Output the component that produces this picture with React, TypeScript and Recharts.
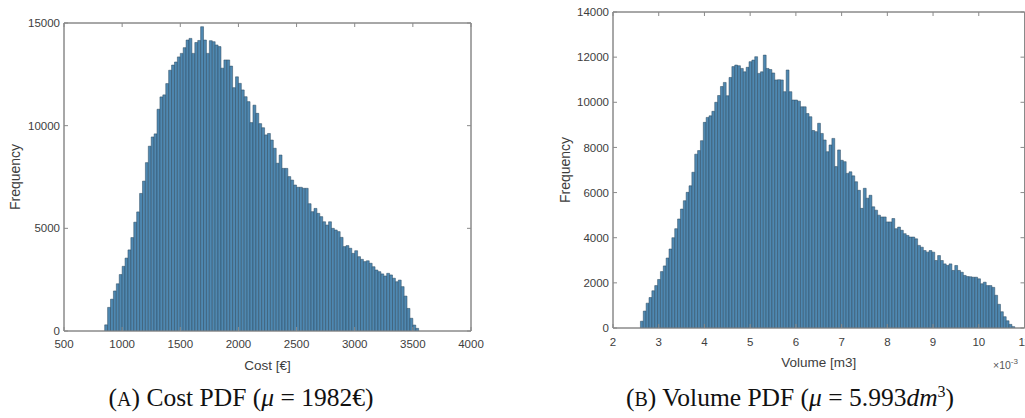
import React from 'react';
import { BarChart, Bar, XAxis, YAxis, Label, ReferenceArea } from 'recharts';

// Cost histogram, 25 € bins from 850 €
const costBinStart = 850;
const costBinWidth = 25;
const costCounts = [
  300, 1150, 1550, 1950, 2300, 2750, 3150, 3550, 3950, 4550,
  5300, 5800, 6700, 7300, 8200, 9000, 9450, 9600, 10800, 11400,
  11500, 12050, 12700, 12950, 13100, 13350, 13520, 13800, 14170, 14250,
  13520, 14050, 14150, 14820, 14170, 13520, 14140, 14090, 13930, 13850,
  12800, 13200, 13200, 12900, 11850, 12380, 12060, 11740, 11410, 11170,
  10150, 11000, 10600, 10100, 9900, 9550, 9620, 9300, 8900, 8170,
  8570, 7920, 7920, 7520, 7350, 7110, 7000, 7000, 6950, 6950,
  6200, 5810, 5970, 5730, 5570, 5320, 5160, 5320, 5000, 4920,
  4840, 4560, 4110, 4160, 4030, 3780, 3910, 3620, 3490, 3380,
  3420, 3300, 3130, 2970, 2890, 2780, 2680, 2810, 2730, 2570,
  2400, 2480, 2160, 1700, 1100, 620, 290, 130,
];
const costTicks = [500, 1000, 1500, 2000, 2500, 3000, 3500, 4000];
const costFreqTicks = [0, 5000, 10000, 15000];

// Volume histogram, bins in units of 1e-3 m3
const volumeBinStart = 2.6;
const volumeBinWidth = 0.0625;
const volumeCounts = [
  300, 750, 1100, 1350, 1650, 1880, 2150, 2500, 2750, 3100,
  3500, 4000, 4400, 4830, 5270, 5640, 6010, 6300, 6900, 7700,
  7860, 8300, 9110, 9330, 9400, 9600, 10000, 10300, 10700, 10880,
  10290, 11100, 11580, 11650, 11620, 11500, 11350, 11550, 11800, 11870,
  12020, 11280, 11350, 12090, 11500, 11450, 11300, 10990, 11000, 10990,
  10470, 11430, 10470, 10100, 10100, 10050, 9800, 9800, 9500, 9360,
  8750, 8700, 9070, 8620, 8330, 7810, 8110, 8400, 7150, 7890,
  7430, 7370, 6850, 6920, 6740, 6480, 6100, 5300, 6190, 5750,
  5880, 5370, 5220, 5000, 4920, 4920, 4700, 4700, 4850, 4400,
  4470, 4330, 4180, 4100, 4030, 4030, 3950, 3660, 3580, 3430,
  3360, 3430, 3360, 2990, 3210, 2990, 2840, 2770, 2840, 2550,
  2770, 2550, 2470, 2330, 2280, 2270, 2250, 2250, 2180, 1960,
  2030, 1880, 1880, 1800, 1450, 1050, 720, 500, 320, 160,
  60,
];
const volumeTicks = [2, 3, 4, 5, 6, 7, 8, 9, 10, 11];
const volumeFreqTicks = [0, 2000, 4000, 6000, 8000, 10000, 12000, 14000];

const AXIS = '#8a8a8a';
const TEXT = '#3d3d3d';
const FILL = '#4f88b1';
const EDGE = '#28465d';

const toRows = (start: number, width: number, counts: number[]) =>
  counts.map((count, i) => ({ x: start + (i + 0.5) * width, count }));

interface HistProps {
  rows: { x: number; count: number }[];
  binWidth: number;
  xDomain: [number, number];
  xTicks: number[];
  yDomain: [number, number];
  yTicks: number[];
  xLabel: string;
  width: number;
  height: number;
  margin: { top: number; right: number; bottom: number; left: number };
  yAxisWidth: number;
  yLabelOffset: number;
  tickGap: number;
}

function Histogram(p: HistProps) {
  const plotWidth = p.width - p.margin.left - p.margin.right - p.yAxisWidth;
  const barSize = (p.binWidth * plotWidth) / (p.xDomain[1] - p.xDomain[0]) * 0.995;
  const blank = () => '';
  return (
    <BarChart
      width={p.width}
      height={p.height}
      data={p.rows}
      margin={p.margin}
      barCategoryGap={0}
      barGap={0}
      style={{ fontFamily: '"Liberation Sans", Arial, sans-serif' }}
    >
      <XAxis
        xAxisId="b"
        type="number"
        dataKey="x"
        domain={p.xDomain}
        ticks={p.xTicks}
        interval={0}
        allowDataOverflow
        height={40}
        tickSize={-4}
        tickMargin={p.tickGap}
        stroke={AXIS}
        tick={{ fontSize: 11.5, fill: TEXT }}
      >
        <Label value={p.xLabel} position="insideBottom" offset={1} style={{ fontSize: 13.5, fill: TEXT }} />
      </XAxis>
      {/* box top edge, inward ticks, no labels */}
      <XAxis
        xAxisId="t"
        orientation="top"
        mirror
        type="number"
        dataKey="x"
        domain={p.xDomain}
        ticks={p.xTicks}
        interval={0}
        allowDataOverflow
        tickSize={4}
        tickFormatter={blank}
        stroke={AXIS}
      />
      <YAxis
        yAxisId="l"
        type="number"
        domain={p.yDomain}
        ticks={p.yTicks}
        interval={0}
        allowDataOverflow
        width={p.yAxisWidth}
        tickSize={-4}
        tickMargin={8}
        stroke={AXIS}
        tick={{ fontSize: 11.5, fill: TEXT }}
      >
        <Label
          value="Frequency"
          angle={-90}
          position="insideLeft"
          offset={p.yLabelOffset}
          style={{ textAnchor: 'middle', fontSize: 14, fill: TEXT }}
        />
      </YAxis>
      {/* box right edge */}
      <YAxis
        yAxisId="r"
        orientation="right"
        mirror
        type="number"
        domain={p.yDomain}
        ticks={p.yTicks}
        interval={0}
        allowDataOverflow
        tickSize={4}
        tickFormatter={blank}
        stroke={AXIS}
      />
      <ReferenceArea
        xAxisId="b"
        yAxisId="l"
        x1={p.xDomain[0]}
        x2={p.xDomain[1]}
        y1={p.yDomain[0]}
        y2={p.yDomain[1]}
        fill="none"
        stroke={AXIS}
        strokeWidth={1}
        ifOverflow="visible"
      />
      <Bar
        xAxisId="b"
        yAxisId="l"
        dataKey="count"
        fill={FILL}
        stroke={EDGE}
        strokeWidth={0.5}
        barSize={barSize}
        isAnimationActive={false}
      />
    </BarChart>
  );
}

const captionStyle: React.CSSProperties = {
  position: 'absolute',
  top: 385,
  fontFamily: '"Liberation Serif", "Times New Roman", serif',
  fontSize: 25.5,
  lineHeight: '26px',
  color: '#111',
  whiteSpace: 'nowrap',
  transform: 'translateX(-50%)',
};

export default function App() {
  return (
    <div
      style={{
        position: 'absolute',
        left: 0,
        top: 0,
        width: 1025,
        height: 418,
        overflow: 'hidden',
        background: '#fff',
      }}
    >
      <div style={{ position: 'absolute', left: 0, top: 0 }}>
        <Histogram
          rows={toRows(costBinStart, costBinWidth, costCounts)}
          binWidth={costBinWidth}
          xDomain={[500, 4000]}
          xTicks={costTicks}
          yDomain={[0, 15000]}
          yTicks={costFreqTicks}
          xLabel="Cost [€]"
          width={500}
          height={380}
          margin={{ top: 23, right: 29, bottom: 9, left: 8 }}
          yAxisWidth={56}
          yLabelOffset={7}
          tickGap={13}
        />
      </div>
      <div style={{ position: 'absolute', left: 520, top: 0 }}>
        <Histogram
          rows={toRows(volumeBinStart, volumeBinWidth, volumeCounts)}
          binWidth={volumeBinWidth}
          xDomain={[2, 11]}
          xTicks={volumeTicks}
          yDomain={[0, 14000]}
          yTicks={volumeFreqTicks}
          xLabel="Volume [m3]"
          width={520}
          height={380}
          margin={{ top: 12, right: 15.5, bottom: 12, left: 8 }}
          yAxisWidth={85}
          yLabelOffset={37}
          tickGap={13.5}
        />
      </div>
      <div
        style={{
          position: 'absolute',
          left: 993,
          top: 357,
          fontFamily: '"Liberation Sans", Arial, sans-serif',
          fontSize: 10.5,
          color: '#555',
          whiteSpace: 'nowrap',
        }}
      >
        ×10<sup style={{ fontSize: 8 }}>-3</sup>
      </div>
      <div style={{ ...captionStyle, left: 241 }}>
        (<span style={{ fontSize: 20 }}>A</span>) Cost PDF (<i>μ</i> = 1982€)
      </div>
      <div style={{ ...captionStyle, left: 790 }}>
        (<span style={{ fontSize: 20 }}>B</span>) Volume PDF (<i>μ</i> = 5.993<i>dm</i>
        <sup style={{ fontSize: 16, lineHeight: 0 }}>3</sup>)
      </div>
    </div>
  );
}
